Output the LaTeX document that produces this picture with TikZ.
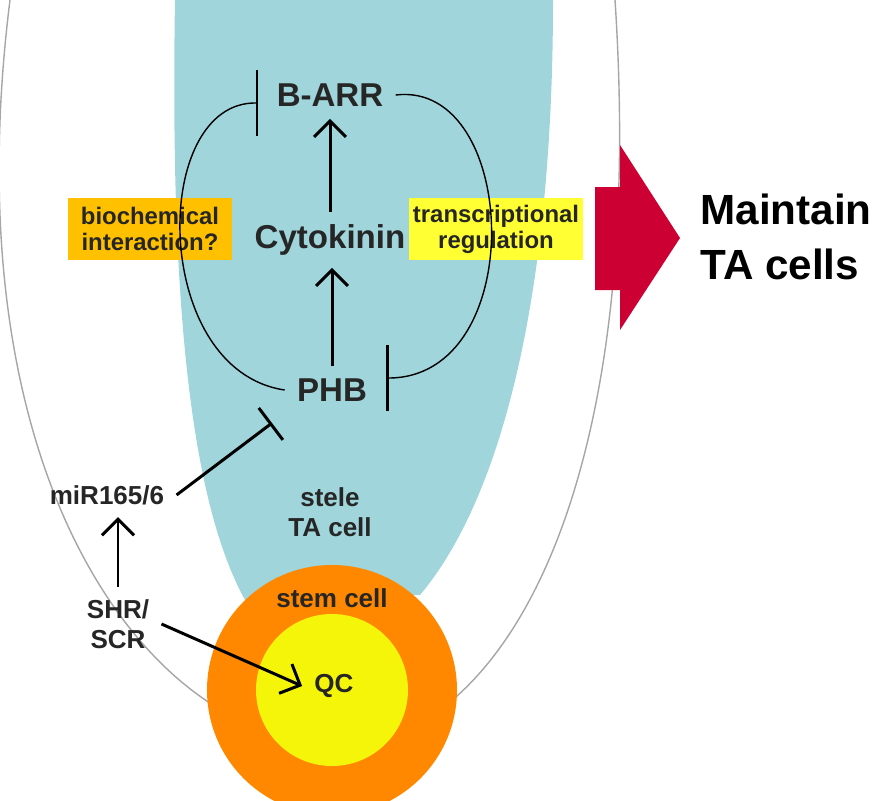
\documentclass[tikz,border=0pt]{standalone}
\usepackage{fontspec}
\setmainfont{Liberation Sans}
\usetikzlibrary{positioning,arrows.meta}
\definecolor{stelecol}{HTML}{9FD5DB}
\definecolor{stemcol}{HTML}{FF8800}
\definecolor{qccol}{HTML}{F5F50A}
\definecolor{boxorange}{HTML}{FFC000}
\definecolor{boxyellow}{HTML}{FFFF33}
\definecolor{bigred}{HTML}{CC0033}
\tikzset{
  lbl/.style = {font=\bfseries\fontsize{9.4pt}{10pt}\selectfont, align=center, text=black!85},
  small/.style = {font=\bfseries\fontsize{7.4pt}{8.6pt}\selectfont, align=center, text=black!85},
  big/.style = {font=\bfseries\fontsize{12pt}{15.5pt}\selectfont, text=black},
  note/.style = {font=\bfseries\fontsize{6.8pt}{7.4pt}\selectfont, align=center, text=black!85,
                 minimum width=1.64cm, minimum height=0.62cm, inner sep=1pt},
  act/.style = {-{Straight Barb[length=1.6mm,width=3.2mm]}, line width=0.85pt},
  inh/.style = {-{Bar[width=4mm]}, line width=0.85pt},
}
\begin{document}
\begin{tikzpicture}[x=0.01cm, y=-0.01cm]
        % ---------------------------------------------------------------------------
        % Background
        % ---------------------------------------------------------------------------
        \useasboundingbox (0,0) rectangle (876,800);
        \fill[stelecol] (175,0) .. controls (170,300) and (190,500) .. (245,600)
                -- (420,595) .. controls (500,500) and (553,300) .. (553,0) -- cycle;
        \draw[gray!70, line width=0.4pt] (10,0) .. controls (-40,400) and (90,640) .. (230,715);
        \draw[gray!70, line width=0.4pt] (615,0) .. controls (640,380) and (560,620) .. (440,710);
        \fill[stemcol] (332,690) circle (125);
        \fill[qccol] (332,690) circle (76);
        \fill[bigred] (595,187) -- (620,187) -- (620,145) -- (680,238) -- (620,330)
                -- (620,290) -- (595,290) -- cycle;

        % ---------------------------------------------------------------------------
        % Draw nodes
        % ---------------------------------------------------------------------------
        \node[lbl] (BARR) at (330,95) {B-ARR};
        \node[lbl] (Cytokinin) at (330,240) {Cytokinin};
        \node[lbl] (PHB) at (332,390) {PHB};
        \node[note, fill=boxorange] (Biochem) at (150,229) {biochemical\\interaction?};
        \node[note, fill=boxyellow] (Transcr) at (496,229) {transcriptional\\regulation};
        \node[big, align=left, anchor=west] (Maintain) at (688,237) {Maintain\\TA cells};
        \node[small] (miR) at (107,495) {miR165/6};
        \node[small] (Stele) at (330,512) {stele\\TA cell};
        \node[small] (SHR) at (118,624) {SHR/\\SCR};
        \node[small] (Stem) at (332,598) {stem cell};
        \node[small] (QC) at (334,686) {QC};
        \coordinate (PHBbar) at (272,423);
        \coordinate (LeftBar) at (257,103);
        \coordinate (RightBar) at (387,378);

        % ---------------------------------------------------------------------------
        % Draw arrows
        % ---------------------------------------------------------------------------
        \draw[act] (PHB.north) -- (PHB.north |- Cytokinin.south);       % PHB to cytokinin
        \draw[act] (Cytokinin.north) -- (BARR.south);                   % cytokinin to B-ARR
        \draw[line width=0.4pt] (PHB.west) .. controls (150,370) and (150,100) .. (LeftBar);
        \draw[line width=0.85pt] (257,70) -- (257,136);                 % bar on B-ARR
        \draw[line width=0.4pt] (BARR.east) .. controls (520,80) and (530,380) .. (RightBar);
        \draw[line width=0.85pt] (387,345) -- (387,411);                % bar on PHB
        \draw[inh] (miR.east) -- (PHBbar);                              % miR165/6 on PHB
        \draw[act] (SHR.north) -- (SHR.north |- miR.south);             % SHR/SCR to miR
        \draw[act] (SHR.east) -- (QC.west);                             % SHR/SCR to QC
    \end{tikzpicture}
\end{document}
